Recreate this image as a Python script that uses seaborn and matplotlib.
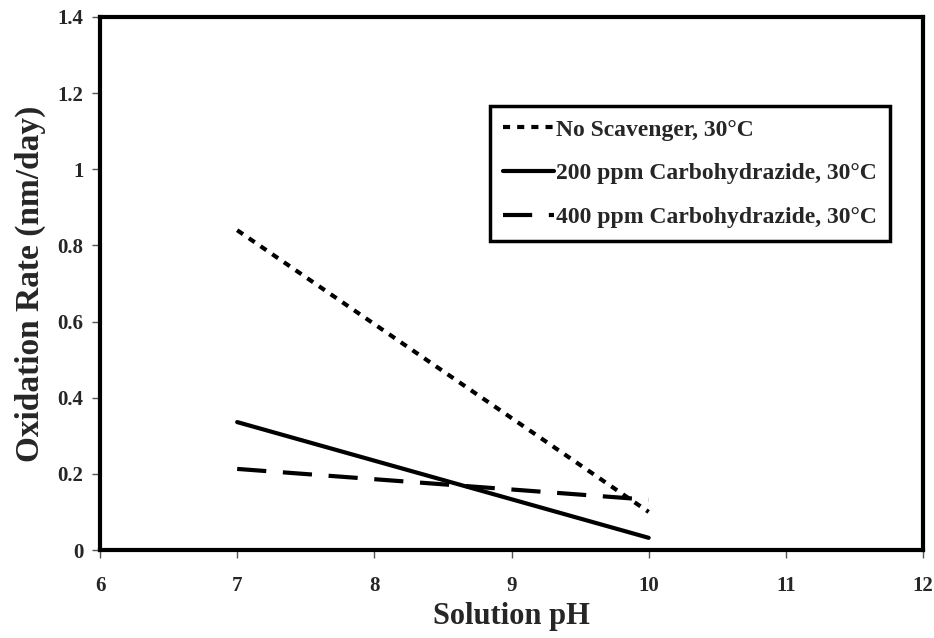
import matplotlib
matplotlib.use("Agg")
import matplotlib.pyplot as plt
import seaborn as sns
import pandas as pd

ph = [7, 10]
no_scavenger = [0.84, 0.10]
carbo_200 = [0.336, 0.032]
carbo_400 = [0.213, 0.132]
series_names = ["No Scavenger, 30°C", "200 ppm Carbohydrazide, 30°C", "400 ppm Carbohydrazide, 30°C"]

df = pd.DataFrame({
    "pH": ph * 3,
    "rate": no_scavenger + carbo_200 + carbo_400,
    "series": [series_names[0]] * 2 + [series_names[1]] * 2 + [series_names[2]] * 2,
})

sns.set_theme(style="white")
plt.rcParams["font.family"] = ["Liberation Serif", "DejaVu Serif"]
plt.rcParams["font.weight"] = "bold"

fig = plt.figure(figsize=(9.34, 6.38), dpi=100)
ax = fig.add_axes([100 / 934, 1 - 550 / 638, 823 / 934, 533 / 638])

dashes = {series_names[0]: (1.7, 1.7), series_names[1]: "", series_names[2]: (7, 4)}
sns.lineplot(data=df, x="pH", y="rate", hue="series", style="series",
             palette=["black"] * 3, dashes=dashes, linewidth=3, ax=ax, legend=True)

ax.set_xlim(6, 12)
ax.set_ylim(0, 1.4)
ax.set_xticks([6, 7, 8, 9, 10, 11, 12])
ax.set_yticks([0, 0.2, 0.4, 0.6, 0.8, 1.0, 1.2, 1.4])
ax.set_yticklabels(["0", "0.2", "0.4", "0.6", "0.8", "1", "1.2", "1.4"])
for s in ax.spines.values():
    s.set_linewidth(3)
    s.set_color("black")
ax.tick_params(axis="both", which="both", direction="out", length=6, width=1,
               color="#555555", labelsize=15, pad=6, left=True, bottom=True)
ax.tick_params(axis="x", pad=13)
for lab in ax.get_xticklabels() + ax.get_yticklabels():
    lab.set_fontweight("bold")
ax.set_xlabel("Solution pH", fontsize=22, fontweight="bold", labelpad=4)
ax.set_ylabel("Oxidation Rate (nm/day)", fontsize=24, fontweight="bold", labelpad=8)

handles, labels = ax.get_legend_handles_labels()
leg = ax.legend(handles, labels, loc="upper left", bbox_to_anchor=((490 - 100) / 823, 1 - (106 - 17) / 533),
                frameon=True, fancybox=False, edgecolor="black", framealpha=1,
                prop={"family": "Liberation Serif", "weight": "bold", "size": 17},
                handlelength=2.15, handletextpad=0.1, labelspacing=0.95, borderpad=0.55, borderaxespad=0)
leg.get_frame().set_linewidth(2.5)

fig.savefig("out.png", dpi=100)
